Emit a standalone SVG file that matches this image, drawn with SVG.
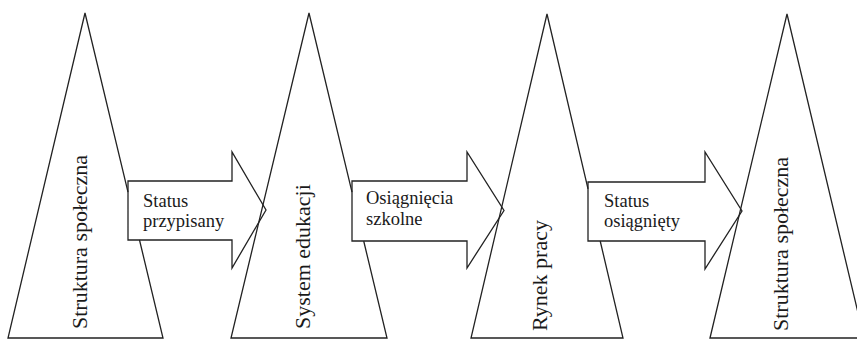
<svg xmlns="http://www.w3.org/2000/svg" width="857" height="339" viewBox="0 0 857 339">
<style>
.edge{fill:none;stroke:#222;stroke-width:1.3;stroke-linejoin:miter}
.arrow{fill:#fff;stroke:#222;stroke-width:1.3;stroke-linejoin:miter}
.vt{font-family:"Liberation Serif","Times New Roman",serif;font-size:22px;fill:#1a1a1a}
.lbl{font-family:"Liberation Serif","Times New Roman",serif;font-size:18.5px;fill:#1a1a1a}
</style>
<rect width="857" height="339" fill="#fff"/>
<g id="connectors">
  <g id="arrow1">
    <path class="arrow" d="M128 181 L232 181 L232 152 L266 210 L232 268 L232 240 L128 240 Z"/>
    <text class="lbl" x="143" y="207">Status</text>
    <text class="lbl" x="143" y="227">przypisany</text>
  </g>
  <g id="arrow2">
    <path class="arrow" d="M352 181 L467 181 L467 152 L504 210.5 L467 268 L467 241 L352 241 Z"/>
    <text class="lbl" x="366" y="204">Osiągnięcia</text>
    <text class="lbl" x="366" y="225">szkolne</text>
  </g>
  <g id="arrow3">
    <path class="arrow" d="M588 182 L705 182 L705 152 L742 211 L705 269 L705 241 L588 241 Z"/>
    <text class="lbl" x="604" y="207">Status</text>
    <text class="lbl" x="604" y="227">osiągnięty</text>
  </g>
</g>
<g id="node1">
  <path class="edge" d="M139.5 240 L163 338 L8 338 L85 13 L128 192.2"/>
  <text class="vt" x="87" y="329" transform="rotate(-90 87 329)">Struktura społeczna</text>
</g>
<g id="node2">
  <path class="edge" d="M363.7 241 L387 338 L231 338 L309 13 L352 192.2"/>
  <text class="vt" x="310" y="329" transform="rotate(-90 310 329)">System edukacji</text>
</g>
<g id="node3">
  <path class="edge" d="M600.2 241 L623 338 L471 338 L547 14 L588 188.8"/>
  <text class="vt" x="547" y="331" transform="rotate(-90 547 331)">Rynek pracy</text>
</g>
<g id="node4">
  <path class="edge" d="M710 338 L787 14 L864 338 Z"/>
  <text class="vt" x="788" y="331" transform="rotate(-90 788 331)">Struktura społeczna</text>
</g>
</svg>
